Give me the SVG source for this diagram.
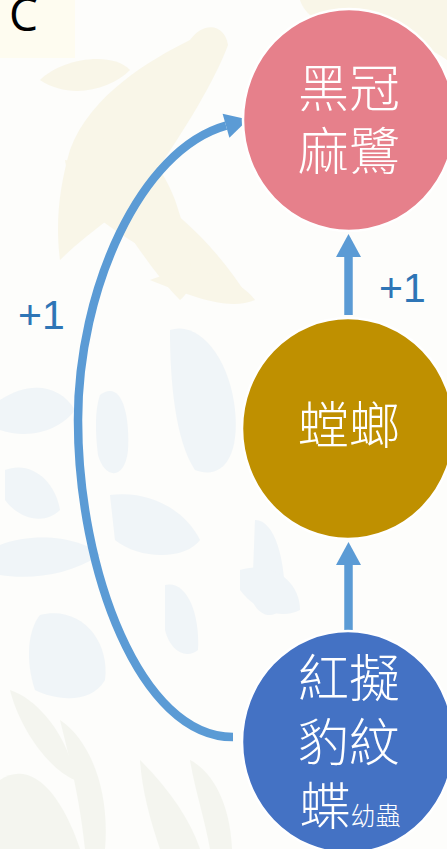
<svg xmlns="http://www.w3.org/2000/svg" width="447" height="849" viewBox="0 0 447 849">
  <style>
    .node { stroke: #ffffff; stroke-width: 2.5; }
    .label { font-family: "Noto Sans CJK TC", "Noto Sans CJK SC", sans-serif; font-weight: 300; fill: #ffffff; text-anchor: middle; }
    .gain { font-family: "Liberation Sans", Arial, sans-serif; font-size: 41px; fill: #2E75B6; }
    .link { fill: none; stroke: #5B9BD5; stroke-width: 8.5; }
    .bird { fill: #F6F0D6; }
    .bug { fill: #E4EEF6; }
    .leaf { fill: #ECEFE4; }
  </style>
  <defs>
    <marker id="head" markerUnits="userSpaceOnUse" markerWidth="26" markerHeight="26" refX="0" refY="12.5" orient="auto" overflow="visible">
      <path d="M0,0 L23,12.5 L0,25 Z" fill="#5B9BD5"/>
    </marker>
  </defs>

  <!-- faint background silhouettes -->
  <rect width="447" height="849" fill="#FDFDFB"/>
  <g id="backdrop" opacity="0.5">
    <path class="bird" d="M70,150 C90,95 150,60 190,40 C205,20 225,25 228,45 C215,80 185,130 150,180 C120,215 90,230 60,260 C55,220 60,185 70,150 Z"/>
    <path class="bird" d="M65,160 C130,170 200,220 250,300 C230,310 180,270 130,240 C90,215 70,195 65,160 Z"/>
    <path class="bird" d="M100,140 C130,130 160,160 175,200 C190,245 200,285 180,300 C150,270 120,220 100,190 Z"/>
    <path class="bird" d="M40,80 C60,60 110,50 130,70 C110,90 70,100 40,80 Z"/>
    <path class="bird" d="M300,0 L447,0 L447,60 C420,40 380,30 340,30 C320,25 305,15 300,0 Z"/>
    <path class="bird" d="M150,280 C200,260 240,280 255,300 C230,310 200,300 150,280 Z"/>
    <path class="bug" d="M170,330 C200,320 230,360 235,410 C240,460 220,480 195,470 C175,440 170,380 170,330 Z"/>
    <path class="bug" d="M100,395 C120,380 130,410 128,450 C125,480 105,480 98,455 C95,430 95,410 100,395 Z"/>
    <path class="bug" d="M0,400 C30,380 60,385 75,410 C60,430 30,440 0,430 Z"/>
    <path class="bug" d="M5,470 C30,460 55,480 60,510 C45,525 20,520 5,500 Z"/>
    <path class="bug" d="M110,495 C150,490 185,510 200,540 C185,560 140,560 115,540 Z"/>
    <path class="bug" d="M0,545 C40,530 85,540 100,555 C70,575 30,580 0,575 Z"/>
    <path class="bug" d="M255,520 C275,520 285,560 285,600 C280,620 260,620 252,600 Z"/>
    <path class="bug" d="M165,585 C185,580 200,610 198,650 C185,660 170,650 165,630 Z"/>
    <path class="bug" d="M40,615 C80,605 110,640 105,680 C90,705 55,700 35,690 C25,660 28,630 40,615 Z"/>
    <path class="bug" d="M240,570 C270,560 300,580 300,610 C280,620 255,610 240,590 Z"/>
    <path class="leaf" d="M0,780 C30,760 60,790 80,849 L0,849 Z"/>
    <path class="leaf" d="M60,720 C90,740 110,790 105,849 L85,849 C80,800 70,760 60,720 Z"/>
    <path class="leaf" d="M10,690 C40,700 70,740 75,780 C50,770 20,730 10,690 Z"/>
    <path class="leaf" d="M140,760 C170,790 190,820 200,849 L160,849 C150,820 142,790 140,760 Z"/>
    <path class="leaf" d="M190,760 C210,770 230,800 232,849 L210,849 C205,820 195,790 190,760 Z"/>
  </g>

  <!-- panel letter -->
  <g id="panel-tag">
    <rect x="0" y="0" width="75" height="58" fill="#FEFCF0"/>
    <text x="9" y="31" font-family="Open Sans, 'Liberation Sans', sans-serif" font-size="46" fill="#000000">C</text>
  </g>

  <!-- connectors -->
  <g id="connectors">
    <path class="link" d="M348.5,315 L348.5,257" marker-end="url(#head)"/>
    <path class="link" d="M348.5,631 L348.5,565" marker-end="url(#head)"/>
    <path class="link" d="M233,737 C140,737 78,570 78,420 C78,290 140,150 226,125.7" marker-end="url(#head)"/>
    <text class="gain" x="18" y="329">+1</text>
    <text class="gain" x="379" y="302">+1</text>
  </g>

  <!-- predator -->
  <g id="node-heron">
    <ellipse class="node" cx="349" cy="120" rx="106" ry="111" fill="#E6808B"/>
    <text class="label" x="349" y="107" font-size="51">黑冠</text>
    <text class="label" x="349" y="170" font-size="51">麻鷺</text>
  </g>

  <!-- mantis -->
  <g id="node-mantis">
    <ellipse class="node" cx="348" cy="428.5" rx="106" ry="110.5" fill="#BF9000"/>
    <text class="label" x="349" y="444" font-size="51">螳螂</text>
  </g>

  <!-- caterpillar -->
  <g id="node-caterpillar">
    <ellipse class="node" cx="348" cy="742" rx="106" ry="111" fill="#4472C4"/>
    <text class="label" x="349" y="697" font-size="51">紅擬</text>
    <text class="label" x="349" y="761" font-size="51">豹紋</text>
    <text class="label" x="350" y="825" font-size="51"><tspan>蝶</tspan><tspan font-size="25">幼蟲</tspan></text>
  </g>
</svg>
